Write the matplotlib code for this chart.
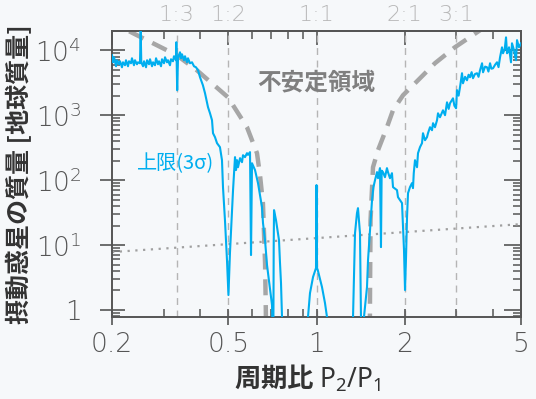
import matplotlib
matplotlib.use('Agg')
import matplotlib.pyplot as plt
from matplotlib.ticker import FixedLocator, FixedFormatter, NullFormatter, LogLocator

# ---------------- data ----------------
period_ratio = [
    0.2, 0.2016, 0.2032, 0.2064, 0.2080, 0.2113, 0.2130, 0.2163, 0.2180, 0.2215,
    0.2232, 0.2268, 0.2286, 0.2322, 0.2340, 0.2377, 0.2396, 0.2434, 0.2453, 0.2492,
    0.2506, 0.2518, 0.2553, 0.2573, 0.2614, 0.2635, 0.2676, 0.2697, 0.2740, 0.2762,
    0.2805, 0.2828, 0.2872, 0.2895, 0.2941, 0.2964, 0.3011, 0.3035, 0.3083, 0.3107,
    0.3156, 0.3181, 0.3231, 0.3257, 0.3309, 0.3318, 0.3340, 0.3362, 0.3388, 0.3415,
    0.3442, 0.3469, 0.3524, 0.3552, 0.3608, 0.3637, 0.3694, 0.3753, 0.3813, 0.3873,
    0.3936, 0.3998, 0.409, 0.4158, 0.4257, 0.4325, 0.4393, 0.4428, 0.4498, 0.4570,
    0.4677, 0.4752, 0.479, 0.4865, 0.4943, 0.5, 0.506, 0.5143, 0.5184, 0.5265,
    0.5307, 0.5349, 0.5391, 0.5477, 0.5563, 0.5607, 0.5696, 0.5786, 0.5832, 0.5925,
    0.5972, 0.6019, 0.6163, 0.631, 0.6511, 0.6563, 0.6668, 0.6774, 0.6828, 0.6936,
    0.7046, 0.708, 0.712, 0.714, 0.7158, 0.727, 0.7328, 0.7444, 0.750, 0.7562,
    0.7622, 0.768, 0.928, 0.9352, 0.950, 0.973, 0.996, 1.0, 1.004, 1.01,
    1.044, 1.069, 1.086, 1.094, 1.322, 1.333, 1.354, 1.375, 1.386, 1.408,
    1.419, 1.43, 1.445, 1.453, 1.488, 1.5, 1.524, 1.548, 1.565, 1.585,
    1.610, 1.623, 1.648, 1.661, 1.670, 1.687, 1.714, 1.741, 1.755, 1.783,
    1.811, 1.826, 1.884, 1.899, 1.929, 1.960, 1.976, 1.991, 2.007, 2.023,
    2.039, 2.055, 2.087, 2.120, 2.137, 2.150, 2.171, 2.206, 2.223, 2.258,
    2.294, 2.312, 2.349, 2.386, 2.405, 2.443, 2.482, 2.502, 2.541, 2.582,
    2.602, 2.643, 2.706, 2.75, 2.793, 2.83, 2.860, 2.928, 2.96, 3.0,
    3.021, 3.06, 3.094, 3.143, 3.167, 3.22, 3.269, 3.31, 3.347, 3.39,
    3.427, 3.48, 3.537, 3.58, 3.622, 3.680, 3.709, 3.77, 3.827, 3.87,
    3.919, 3.96, 4.012, 4.08, 4.140, 4.19, 4.240, 4.306, 4.340, 4.40,
    4.444, 4.479, 4.52, 4.550, 4.622, 4.658, 4.733, 4.808, 4.846, 4.922,
    5.0,
]
mass_upper_limit = [
    8380, 6530, 7800, 5670, 7020, 6090, 6770, 5470, 6530, 5880,
    7020, 5670, 6770, 6310, 7530, 5880, 7020, 6090, 6530, 6310,
    20000, 6530, 5670, 6770, 5470, 7020, 6090, 7270, 5670, 6530,
    5880, 7530, 6090, 6770, 5670, 7270, 6310, 7800, 6530, 7020,
    5880, 7270, 6770, 8090, 7020, 13300, 2430, 7530, 8380, 9310,
    7530, 8670, 7020, 8090, 6530, 7530, 6310, 6530, 5670, 5470,
    4920, 3840, 2890, 2180, 1330, 1070, 838, 528, 459, 371,
    322, 203, 78, 24.2, 5.87, 1.70, 7.53, 34.5, 70.2, 226,
    143, 203, 158, 218, 189, 242, 226, 260, 245, 270,
    7.02, 182, 143, 89.9, 38.4, 21.8, 11.9, 4.92, 3.71, 2.18,
    1.19, 0.4, 0.4, 10, 34.5, 24.2, 18.9, 11.9, 5.47, 2.6,
    0.78, 0.4, 0.4, 0.78, 1.82, 3.22, 4.43, 84, 4.43, 4.12,
    2.26, 1.28, 0.78, 0.4, 0.4, 0.78, 15.3, 31, 37, 15.3,
    0.78, 0.4, 0.4, 0.78, 2.26, 5.87, 17, 49.2, 78, 100,
    133, 107, 153, 9.31, 140, 133, 111, 153, 133, 107,
    128, 78, 70.2, 54.7, 49.2, 44.3, 18.9, 8.38, 2.03, 6.53,
    26.9, 63.1, 78, 89.9, 75.3, 128, 203, 158, 260, 322,
    371, 528, 412, 459, 528, 653, 587, 753, 653, 838,
    1070, 931, 1190, 1000, 1580, 1250, 1530, 1820, 1400, 1280,
    2430, 2000, 2700, 4430, 3100, 3900, 3450, 4200, 3840, 4600,
    3710, 4300, 4430, 3900, 4920, 6310, 4580, 5600, 5470, 4700,
    6310, 5200, 5280, 6000, 6530, 5500, 7800, 11100, 8990, 10500,
    15800, 8990, 9500, 11100, 6530, 12800, 10000, 7020, 14300, 11100,
    12800,
]

unstable_left_ratio = [0.229, 0.333, 0.390, 0.498, 0.5786, 0.626, 0.641, 0.656, 0.667, 0.671, 0.672]
unstable_left_mass = [19600, 8380, 4920, 1890, 653, 260, 119, 44, 5.3, 1.0, 0.5]
unstable_right_ratio = [1.522, 1.524, 1.53, 1.56, 1.623, 1.741, 1.826, 1.976, 2.171, 2.54, 2.97, 3.62]
unstable_right_mass = [0.5, 2, 24, 158, 290, 653, 1194, 2030, 3100, 6310, 11100, 20300]

reference_ratio = [0.2, 5]
reference_mass = [7.8, 21]

resonance_ratios = [1/3, 1/2, 1, 2, 3]
resonance_labels = ['1:3', '1:2', '1:1', '2:1', '3:1']

xtick_values = [0.2, 0.5, 1, 2, 5]
xtick_labels = ['0.2', '0.5', '1', '2', '5']
ytick_values = [1, 10, 100, 1000, 10000]
ytick_labels = ['1', r'$\mathregular{10^1}$', r'$\mathregular{10^2}$',
                r'$\mathregular{10^3}$', r'$\mathregular{10^4}$']

# ---------------- style ----------------
plt.rcParams['mathtext.fontset'] = 'custom'
plt.rcParams['mathtext.rm'] = 'Noto Sans'
plt.rcParams['mathtext.it'] = 'Noto Sans:italic'
plt.rcParams['mathtext.bf'] = 'Noto Sans:bold'

BG = '#f6f8fa'
BLUE = '#00aeef'
SPINE = '#555555'
NUMFONT = ['DejaVu Sans']
CJK = ['Noto Sans CJK JP', 'DejaVu Sans']

fig = plt.figure(figsize=(5.36, 3.99), dpi=100, facecolor=BG)
ax = fig.add_axes([0.209, 0.2055, 0.763, 0.7168], facecolor=BG)
ax.set_xscale('log')
ax.set_yscale('log')
ax.set_xlim(0.2, 5)
ax.set_ylim(0.78, 19800)

for r in resonance_ratios:
    ax.axvline(r, color='#b5b5b5', lw=1.0, dashes=(5, 4), zorder=1)

ax.plot(reference_ratio, reference_mass, color='#a0a0a0', lw=1.6,
        linestyle=(0, (1, 2.5)), zorder=2)
ax.plot(unstable_left_ratio, unstable_left_mass, color='#a6a6a6', lw=3.2,
        dashes=(3.6, 2.2), zorder=2)
ax.plot(unstable_right_ratio, unstable_right_mass, color='#a6a6a6', lw=3.2,
        dashes=(3.6, 2.2), zorder=2)
ax.plot(period_ratio, mass_upper_limit, color=BLUE, lw=1.5, zorder=3)

for sp in ax.spines.values():
    sp.set_color(SPINE)
    sp.set_linewidth(1.4)

ax.xaxis.set_major_locator(FixedLocator(xtick_values))
ax.xaxis.set_major_formatter(FixedFormatter(xtick_labels))
ax.xaxis.set_minor_locator(LogLocator(base=10, subs=range(2, 10)))
ax.xaxis.set_minor_formatter(NullFormatter())
ax.yaxis.set_major_locator(FixedLocator(ytick_values))
ax.yaxis.set_major_formatter(FixedFormatter(ytick_labels))
ax.yaxis.set_minor_locator(LogLocator(base=10, subs=range(2, 10)))
ax.yaxis.set_minor_formatter(NullFormatter())

ax.tick_params(axis='x', which='major', direction='inout', length=12, width=1.2,
               color=SPINE, pad=5, labelsize=19, labelcolor='#555555')
ax.tick_params(axis='y', which='major', direction='inout', length=18, width=1.2,
               color=SPINE, pad=13, labelsize=19, labelcolor='#555555')
ax.tick_params(axis='both', which='minor', direction='in', length=6, width=1.1,
               color=SPINE)
for lab in ax.get_xticklabels() + ax.get_yticklabels():
    lab.set_family(NUMFONT)
    lab.set_fontweight('light')

secx = ax.secondary_xaxis('top')
secx.xaxis.set_major_locator(FixedLocator(xtick_values))
secx.xaxis.set_minor_locator(LogLocator(base=10, subs=range(2, 10)))
secx.xaxis.set_major_formatter(NullFormatter())
secx.xaxis.set_minor_formatter(NullFormatter())
secx.tick_params(which='major', direction='in', length=10, width=1.2, color=SPINE)
secx.tick_params(which='minor', direction='in', length=6, width=1.1, color=SPINE)
secx.spines['top'].set_color(SPINE)
secx.spines['top'].set_linewidth(1.4)

secy = ax.secondary_yaxis('right')
secy.yaxis.set_major_locator(FixedLocator(ytick_values))
secy.yaxis.set_minor_locator(LogLocator(base=10, subs=range(2, 10)))
secy.yaxis.set_major_formatter(NullFormatter())
secy.yaxis.set_minor_formatter(NullFormatter())
secy.tick_params(which='major', direction='in', length=12, width=1.2, color=SPINE)
secy.tick_params(which='minor', direction='in', length=6, width=1.1, color=SPINE)
secy.spines['right'].set_color(SPINE)
secy.spines['right'].set_linewidth(1.4)

trans = ax.get_xaxis_transform()
for r, lab in zip(resonance_ratios, resonance_labels):
    ax.text(r, 1.055, lab, transform=trans, ha='center', va='center',
            fontsize=16, color='#b8b8b8', family=NUMFONT, fontweight='light')

ax.text(1.0, 3200, '不安定領域', fontsize=17, color='#7f7f7f',
        family=CJK, fontweight='bold', ha='center', va='center')
ax.text(0.329, 182, '上限(3σ)', fontsize=14.5, color=BLUE,
        family=CJK, ha='center', va='center')

ax.set_xlabel(r'周期比 $\mathrm{P_2/P_1}$', fontsize=19, family=CJK,
              fontweight='bold', color='#333333')
ax.xaxis.set_label_coords(0.479, -0.16)
ax.set_ylabel('摂動惑星の質量 [地球質量]', fontsize=18, family=CJK,
              fontweight='bold', color='#333333', labelpad=2)

fig.savefig('out.png', dpi=100, facecolor=BG)
